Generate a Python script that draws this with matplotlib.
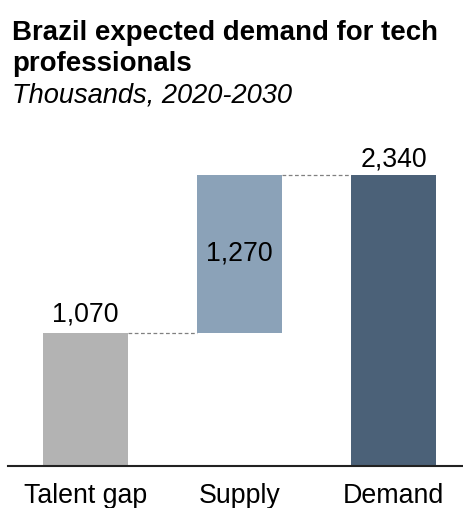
import matplotlib.pyplot as plt

plt.rcParams['font.family'] = ['Liberation Sans', 'DejaVu Sans']

# data (thousands, 2020-2030)
categories = ['Talent gap', 'Supply', 'Demand']
values = [1070, 1270, 2340]
bottoms = [0, 1070, 0]
labels = ['1,070', '1,270', '2,340']
colors = ['#b3b3b3', '#8ba2b8', '#4b6178']

fig = plt.figure(figsize=(4.64, 5.08), dpi=100)
ax = fig.add_axes([0.0172, 0.0827, 0.9828, 0.681])

x = list(range(len(categories)))
w = 0.552
ax.bar(x, values, bottom=bottoms, width=w, color=colors)

# dashed connectors between bars
tops = [b + v for b, v in zip(bottoms, values)]
for i in range(len(x) - 1):
    ax.plot([x[i] + w / 2, x[i + 1] - w / 2], [tops[i], tops[i]],
            color='#808080', lw=0.9, ls=(0, (3, 2)))

# value labels
ax.text(x[0], tops[0] + 90, labels[0], ha='center', va='baseline', fontsize=19.2)
ax.text(x[1], bottoms[1] + values[1] / 2, labels[1], ha='center', va='center', fontsize=19.2)
ax.text(x[2], tops[2] + 65, labels[2], ha='center', va='baseline', fontsize=19.2)

ax.set_xlim(-0.503, 2.458)
ax.set_ylim(0, 2781)
ax.set_xticks(x)
ax.set_xticklabels(categories, fontsize=19.3)
ax.tick_params(axis='x', length=0, pad=12)
ax.set_yticks([])
for s in ['top', 'right', 'left']:
    ax.spines[s].set_visible(False)
ax.spines['bottom'].set_linewidth(1.5)
ax.spines['bottom'].set_color('#222222')

fig.text(0.026, 1 - 40 / 508, 'Brazil expected demand for tech', fontsize=19.9,
         fontweight='bold', va='baseline')
fig.text(0.026, 1 - 71 / 508, 'professionals', fontsize=19.9,
         fontweight='bold', va='baseline')
fig.text(0.026, 1 - 103 / 508, 'Thousands, 2020-2030', fontsize=19.6,
         style='italic', va='baseline')

plt.savefig('out.png', dpi=100)
